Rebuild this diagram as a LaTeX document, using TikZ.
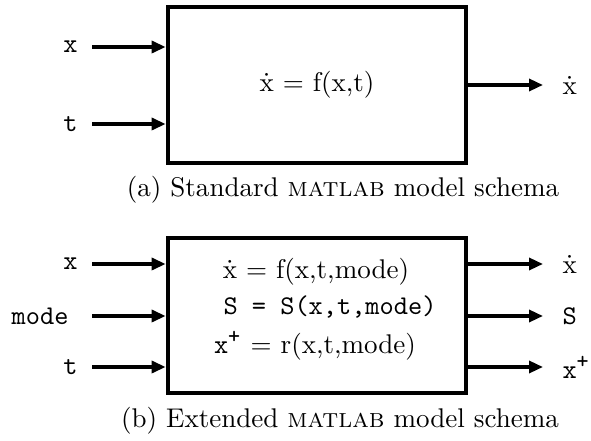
\documentclass[tikz,border=0pt]{standalone}
\usepackage{amsmath,amssymb}
\usepackage{tikz}
\usetikzlibrary{arrows.meta,positioning}
\newcommand{\xplus}{$\texttt{x}^{\mbox{\fontsize{8.5}{9}\selectfont\texttt{+}}}$}

\begin{document}
\begin{tikzpicture}[x=0.013cm, y=-0.013cm,
  blockbox/.style={draw,line width=1.7pt,minimum width=3.874cm,inner sep=0pt},
  sigin/.style={inner sep=0pt,anchor=east},
  sigout/.style={inner sep=0pt,anchor=west},
  sig/.style={line width=1.45pt,-{Triangle[length=5.2pt,width=4.4pt]}}]
\useasboundingbox (0,0) rectangle (591,441);

% (a) standard model
\node[blockbox,minimum height=2.028cm] (fa) at (317,85) {$\dot{\mathrm{x}}$ = f(x,t)};
\node[sigin] (xa) at (78,47) {\texttt{x}};
\node[sigin] (ta) at (78,124) {\texttt{t}};
\node[sigout] (dxa) at (562,85) {$\dot{\mathrm{x}}$};
\draw[sig,shorten <=5.2pt] (xa) -- (xa -| fa.west);
\draw[sig,shorten <=5.2pt] (ta) -- (ta -| fa.west);
\draw[sig,shorten >=7pt] (fa.east |- dxa.west) -- (dxa.west);
\node (capa) at (343,190) {(a) Standard \textsc{matlab} model schema};

% (b) extended model
\node[blockbox,minimum height=2.015cm] (fb) at (317,315.5) {};
\node (lfb) at (316,272) {$\dot{\mathrm{x}}$ = f(x,t,mode)};
\node (lsb) at (330,307) {\texttt{S = S(x,t,mode)}};
\node (lrb) at (315,346) {\xplus{} = r(x,t,mode)};
\node[sigin] (xb) at (78,264) {\texttt{x}};
\node[sigin] (modeb) at (69,316) {\texttt{mode}};
\node[sigin] (tb) at (78,367) {\texttt{t}};
\node[sigout] (dxb) at (562,264) {$\dot{\mathrm{x}}$};
\node[sigout] (sb) at (562,316) {\texttt{S}};
\node[sigout] (xpb) at (562,367) {\xplus};
\draw[sig,shorten <=5.2pt] (xb) -- (xb -| fb.west);
\draw[sig,shorten <=8.6pt] (modeb) -- (modeb -| fb.west);
\draw[sig,shorten <=5.2pt] (tb) -- (tb -| fb.west);
\draw[sig,shorten >=7pt] (fb.east |- dxb.west) -- (dxb.west);
\draw[sig,shorten >=7pt] (fb.east |- sb.west) -- (sb.west);
\draw[sig,shorten >=7pt] (fb.east |- xpb.west) -- (xpb.west);
\node (capb) at (340,421) {(b) Extended \textsc{matlab} model schema};
\end{tikzpicture}
\end{document}
